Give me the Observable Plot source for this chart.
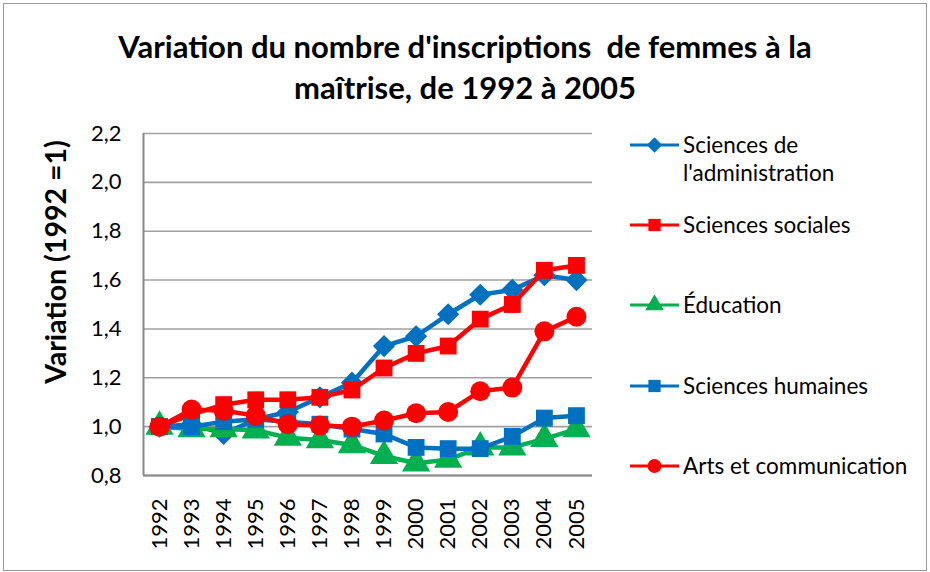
<!DOCTYPE html>
<html><head><meta charset="utf-8">
<script src="https://cdn.jsdelivr.net/npm/d3@7"></script>
<script src="https://cdn.jsdelivr.net/npm/@observablehq/plot@0.6"></script>
<style>
body{margin:0;background:#fff;font-family:Lato,"Open Sans",sans-serif;}
#wrap{position:relative;width:930px;height:572px;overflow:hidden;background:#fff}
#border{position:absolute;left:3px;top:3px;width:922px;height:566px;border:1px solid #9a9a9a;}
#title{position:absolute;left:0;top:26px;width:930px;text-align:center;font-weight:bold;font-size:31px;line-height:41px;white-space:pre;color:#000}
#ylabel{position:absolute;left:55px;top:262px;transform:translate(-50%,-50%) rotate(-90deg);font-weight:bold;font-size:28.5px;white-space:nowrap;color:#000}
#chart{position:absolute;left:0;top:112px}
.lg-sw{position:absolute;left:628px;width:54px;height:20px}
.lg-tx{position:absolute;left:683px;font-size:22.5px;line-height:28px;color:#000;white-space:nowrap}
</style></head>
<body>
<div id="wrap">
  <div id="border"></div>
  <div id="title">Variation du nombre d'inscriptions  de femmes à la
maîtrise, de 1992 à 2005</div>
  <div id="ylabel">Variation (1992 =1)</div>
  <div id="chart"></div>
  <div id="legend"></div>
</div>
<script>
const years = [1992,1993,1994,1995,1996,1997,1998,1999,2000,2001,2002,2003,2004,2005];
const seriesNames = ["Sciences de l'administration","Sciences sociales","Éducation","Sciences humaines","Arts et communication"];
const adminValues   = [1.00,1.01,0.97,1.03,1.06,1.12,1.18,1.33,1.37,1.46,1.54,1.56,1.62,1.60];
const socialesValues= [1.00,1.05,1.09,1.11,1.11,1.12,1.15,1.24,1.30,1.33,1.44,1.50,1.64,1.66];
const educValues    = [1.00,0.99,0.99,0.985,0.955,0.945,0.925,0.88,0.85,0.865,0.915,0.915,0.95,0.99];
const humainesValues= [1.00,1.00,1.02,1.03,1.02,1.01,0.99,0.97,0.915,0.91,0.91,0.96,1.035,1.045];
const artsValues    = [1.00,1.07,1.065,1.045,1.01,1.005,1.00,1.025,1.055,1.06,1.145,1.16,1.39,1.45];
const yTicks = [0.8,1.0,1.2,1.4,1.6,1.8,2.0,2.2];
const seriesColors = ["#0070C0","#FF0000","#00B050","#0070C0","#FF0000"];
const seriesSymbols = ["diamond2","square","triangle","square","circle"];
const seriesR = [10,9.5,10.5,9.5,10];
const legendY = [145,225,305,386,466];
const legendLabels = [["Sciences de","l'administration"],["Sciences sociales"],["Éducation"],["Sciences humaines"],["Arts et communication"]];

const allValues = [adminValues,socialesValues,educValues,humainesValues,artsValues];
const tables = allValues.map((vals,i)=>years.map((yr,j)=>({year:yr,value:vals[j],series:seriesNames[i]})));

const fmt = d => d3.format(".1f")(d).replace(".",",");
const seriesMarks = tables.flatMap((t,i)=>[
  Plot.line(t,{x:"year",y:"value",stroke:seriesColors[i],strokeWidth:4.5}),
  Plot.dot(t,{x:"year",y:"value",fill:seriesColors[i],symbol:seriesSymbols[i],r:seriesR[i],stroke:"none"})
]);

const chart = Plot.plot({
  width:930, height:460,
  marginLeft:143, marginRight:338, marginTop:21, marginBottom:97,
  style:{fontFamily:"Lato, 'Open Sans', sans-serif", fontSize:"22px", color:"#000", background:"transparent", overflow:"visible"},
  x:{domain:[1991.5,2005.5]},
  y:{domain:[0.8,2.2]},
  marks:[
    Plot.gridY(yTicks,{stroke:"#a0a0a0",strokeOpacity:1,strokeWidth:1.6}),
    Plot.ruleX([1991.5],{stroke:"#888",strokeWidth:2}),
    Plot.ruleY([0.8],{stroke:"#888",strokeWidth:2}),
    Plot.axisY({ticks:yTicks,tickSize:0,tickPadding:22,tickFormat:fmt,label:null}),
    Plot.axisX({ticks:years,tickSize:0,tickPadding:23,tickRotate:-90,tickFormat:d=>String(d),label:null}),
    ...seriesMarks
  ]
});
document.getElementById("chart").appendChild(chart);

const legend = document.getElementById("legend");
const sym = {diamond2:d3.symbolDiamond2,square:d3.symbolSquare,triangle:d3.symbolTriangle,circle:d3.symbolCircle};
seriesNames.forEach((name,i)=>{
  const cy = legendY[i];
  const sw = document.createElementNS("http://www.w3.org/2000/svg","svg");
  sw.setAttribute("class","lg-sw");
  sw.setAttribute("width",54); sw.setAttribute("height",20);
  sw.style.top = (cy-10)+"px";
  const path = d3.symbol(sym[seriesSymbols[i]], 150)();
  sw.innerHTML = `<line x1="2" x2="51" y1="10" y2="10" stroke="${seriesColors[i]}" stroke-width="3"/>`+
    `<path d="${path}" transform="translate(26.5,10)" fill="${seriesColors[i]}"/>`;
  legend.appendChild(sw);
  const tx = document.createElement("div");
  tx.className = "lg-tx";
  tx.style.top = (cy-14)+"px";
  tx.innerHTML = legendLabels[i].join("<br>");
  legend.appendChild(tx);
});
</script>
</body></html>
